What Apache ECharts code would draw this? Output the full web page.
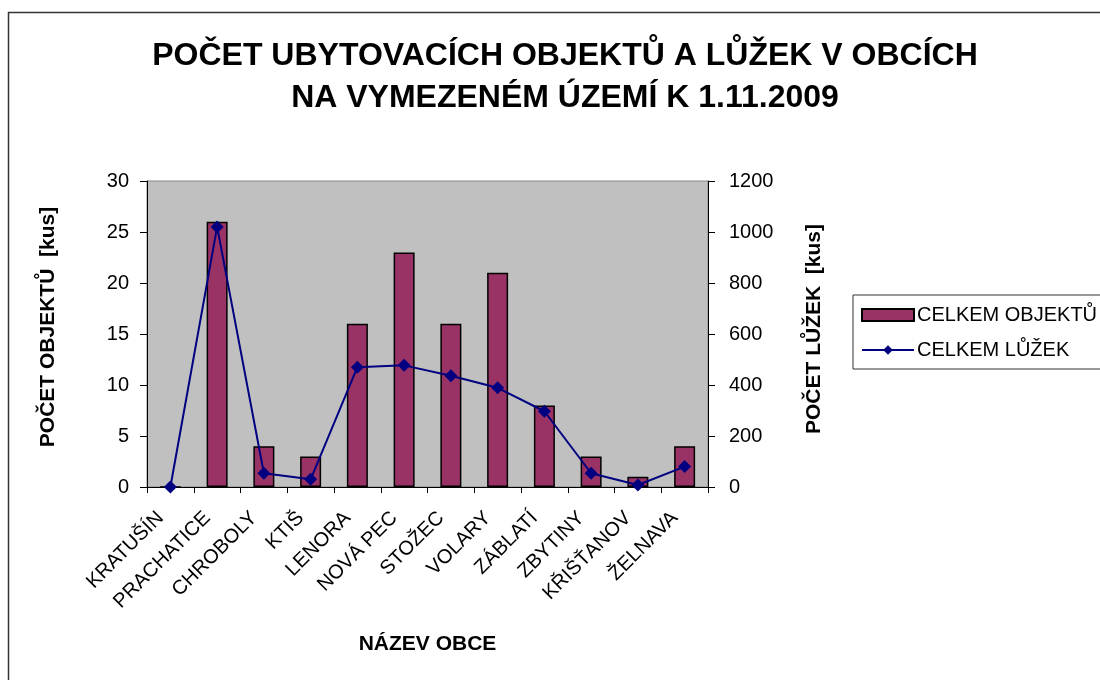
<!DOCTYPE html>
<html>
<head>
<meta charset="utf-8">
<script src="https://cdn.jsdelivr.net/npm/echarts@6/dist/echarts.min.js"></script>
<style>
html,body{margin:0;padding:0;background:#fff;}
#c{width:1100px;height:680px;}
</style>
</head>
<body>
<div id="c"></div>
<script>
const categories = ['KRATUŠÍN','PRACHATICE','CHROBOLY','KTIŠ','LENORA','NOVÁ PEC','STOŽEC','VOLARY','ZÁBLATÍ','ZBYTINY','KŘIŠŤANOV','ŽELNAVA'];
const objekty = [0, 26, 4, 3, 16, 23, 16, 21, 8, 3, 1, 4];
const luzka = [0, 1020, 54, 30, 470, 477, 436, 389, 297, 54, 8, 80];
const leftTicks = [0, 30, 5];
const rightTicks = [0, 1200, 200];

const FONT = 'Liberation Sans, Arial, sans-serif';
const chart = echarts.init(document.getElementById('c'));
chart.setOption({
  animation: false,
  backgroundColor: '#fff',
  textStyle: { fontFamily: FONT },
  graphic: [{
    type: 'rect', left: 6, top: 10, shape: { width: 1100, height: 680 },
    style: { fill: 'none', stroke: '#333', lineWidth: 1.5 }, silent: true, z: -1
  }],
  title: {
    text: 'POČET UBYTOVACÍCH OBJEKTŮ A LŮŽEK V OBCÍCH\nNA VYMEZENÉM ÚZEMÍ K 1.11.2009',
    left: 560, top: 30, textAlign: 'center',
    textStyle: { fontFamily: FONT, fontSize: 32, fontWeight: 'bold', color: '#000', lineHeight: 42 }
  },
  legend: {
    left: 853, top: 295, orient: 'vertical',
    padding: [10, 10, 9, 8], itemGap: 15,
    itemWidth: 52, itemHeight: 12,
    borderColor: '#333', borderWidth: 1,
    textStyle: { fontFamily: FONT, fontSize: 20, color: '#000', padding: [0,0,0,-2] },
    data: [
      { name: 'CELKEM OBJEKTŮ', icon: 'rect' },
      { name: 'CELKEM LŮŽEK' }
    ]
  },
  grid: {
    left: 147, right: 1100 - 708, top: 181, bottom: 680 - 487,
    show: true, backgroundColor: '#c0c0c0', borderColor: '#888', borderWidth: 1
  },
  xAxis: {
    type: 'category', data: categories,
    name: 'NÁZEV OBCE', nameLocation: 'middle', nameGap: 147,
    nameTextStyle: { fontFamily: FONT, fontSize: 21, fontWeight: 'bold', color: '#000' },
    axisLine: { lineStyle: { color: '#000', width: 1 } },
    axisTick: { show: true, length: 6, lineStyle: { color: '#000' } },
    axisLabel: { rotate: 45, fontFamily: FONT, fontSize: 20, color: '#000', margin: 18, interval: 0, padding: [0, 14, 0, 0] }
  },
  yAxis: [{
    type: 'value', min: leftTicks[0], max: leftTicks[1], interval: leftTicks[2],
    name: 'POČET OBJEKTŮ  [kus]', nameLocation: 'middle', nameGap: 88, nameRotate: 90,
    nameTextStyle: { fontFamily: FONT, fontSize: 21, fontWeight: 'bold', color: '#000', padding: [0, 0, 0, 14] },
    axisLine: { show: true, lineStyle: { color: '#000' } },
    axisTick: { show: true, length: 7, lineStyle: { color: '#000' } },
    axisLabel: { fontFamily: FONT, fontSize: 20, color: '#000', margin: 18 },
    splitLine: { show: false }
  }, {
    type: 'value', min: rightTicks[0], max: rightTicks[1], interval: rightTicks[2],
    name: 'POČET LŮŽEK  [kus]', nameLocation: 'middle', nameGap: 96, nameRotate: 90,
    nameTextStyle: { fontFamily: FONT, fontSize: 21, fontWeight: 'bold', color: '#000', padding: [0, 0, 0, 10] },
    axisLine: { show: true, lineStyle: { color: '#000' } },
    axisTick: { show: true, length: 7, lineStyle: { color: '#000' } },
    axisLabel: { fontFamily: FONT, fontSize: 20, color: '#000', margin: 21, formatter: v => String(v) },
    splitLine: { show: false }
  }],
  series: [{
    name: 'CELKEM OBJEKTŮ', type: 'bar', data: objekty, yAxisIndex: 0,
    barWidth: 21,
    itemStyle: { color: '#993366', borderColor: '#000', borderWidth: 1.5 }
  }, {
    name: 'CELKEM LŮŽEK', type: 'line', data: luzka, yAxisIndex: 1,
    symbol: 'diamond', symbolSize: 13,
    lineStyle: { color: '#000080', width: 2 },
    itemStyle: { color: '#000080' }
  }]
});
</script>
</body>
</html>
